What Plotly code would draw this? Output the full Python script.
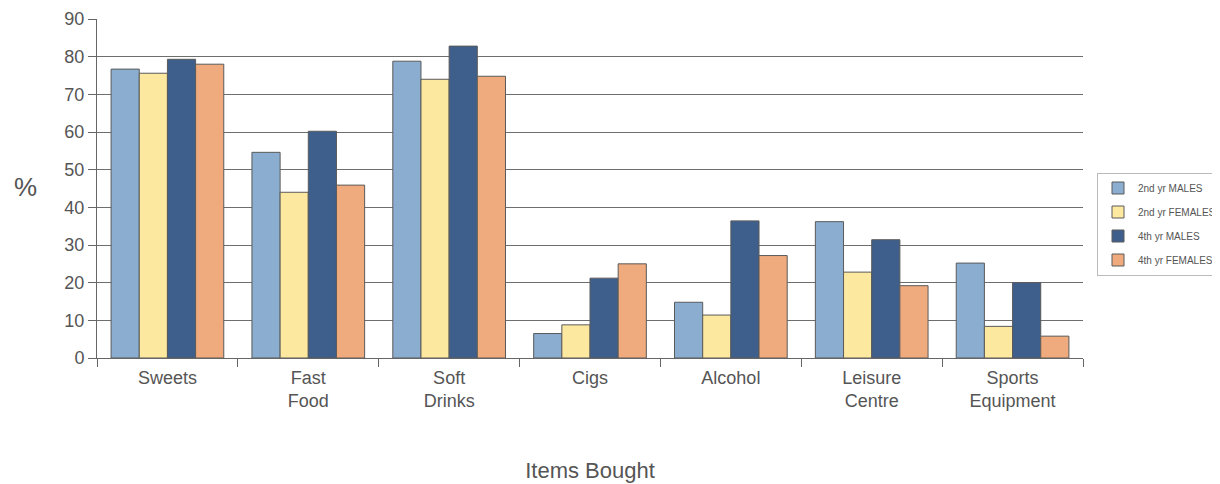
import plotly.graph_objects as go

categories = ["Sweets", "Fast<br>Food", "Soft<br>Drinks", "Cigs", "Alcohol", "Leisure<br>Centre", "Sports<br>Equipment"]
males_2nd = [76.7, 54.6, 78.8, 6.5, 14.8, 36.2, 25.2]
females_2nd = [75.6, 44.0, 74.0, 8.8, 11.4, 22.8, 8.4]
males_4th = [79.3, 60.2, 82.8, 21.2, 36.4, 31.4, 20.0]
females_4th = [78.0, 45.9, 74.8, 25.0, 27.2, 19.2, 5.8]

series = [
    ("2nd yr MALES", males_2nd, "#8aadd0"),
    ("2nd yr FEMALES", females_2nd, "#fde8a0"),
    ("4th yr MALES", males_4th, "#3e5f8c"),
    ("4th yr FEMALES", females_4th, "#efab7d"),
]

fig = go.Figure()
for name, vals, col in series:
    fig.add_trace(go.Bar(
        x=categories, y=vals, name=name, legendgroup=name,
        marker=dict(color=col, line=dict(color="#5a5a5a", width=1)),
    ))

# the page body has an 8px default margin; figure coordinates are offset accordingly
W, H = 1220, 484
L, T, R, B = 89, 11, 145, 134
gray = "#555555"
fig.update_layout(
    width=W, height=H,
    paper_bgcolor="white", plot_bgcolor="white",
    margin=dict(l=L, r=R, t=T, b=B, autoexpand=False),
    barmode="group", bargap=0.2, bargroupgap=0,
    font=dict(family="Liberation Sans, Arial, sans-serif", color=gray),
    legend=dict(
        xref="container", yref="container",
        x=1089 / W, y=1 - 216 / H, xanchor="left", yanchor="middle",
        bordercolor="#bbbbbb", borderwidth=1,
        font=dict(size=10, color=gray),
        tracegroupgap=5,
    ),
    xaxis=dict(
        automargin=False,
        showline=True, linecolor="#666666", linewidth=1,
        ticks="outside", tickson="boundaries", ticklen=8, tickcolor="#666666",
        tickfont=dict(size=18, color=gray), ticklabelstandoff=3,
        title=dict(text="Items Bought", font=dict(size=22, color=gray), standoff=52),
        showgrid=False,
    ),
    yaxis=dict(
        automargin=False,
        range=[0, 90], dtick=10,
        showline=True, linecolor="#666666", linewidth=1,
        ticks="outside", ticklen=8, tickcolor="#666666",
        tickfont=dict(size=18, color=gray),
        showgrid=True, gridcolor="#6e6e6e", gridwidth=1,
        zeroline=False,
    ),
)
pw = W - L - R
ph = H - T - B
fig.add_annotation(
    text="%", x=(17 - L) / pw, y=(350 - 179) / ph, xref="paper", yref="paper",
    xanchor="center", yanchor="middle",
    showarrow=False, font=dict(size=26, color=gray),
)
fig.write_html("out.html")
